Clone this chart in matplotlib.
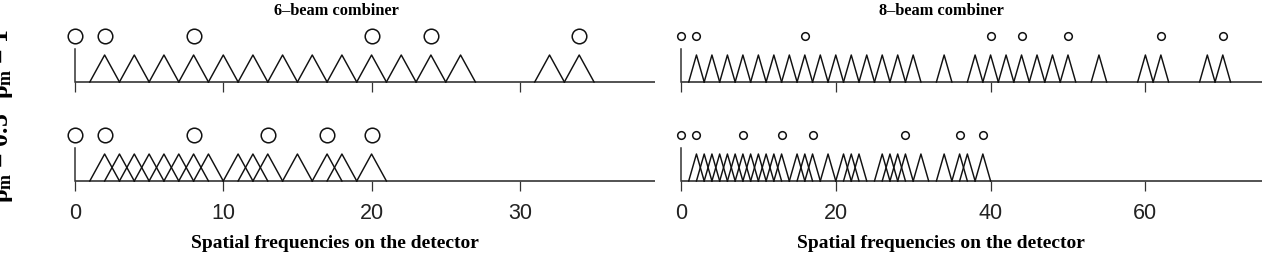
import matplotlib
matplotlib.use("Agg")
import matplotlib.pyplot as plt

plt.rcParams['mathtext.fontset'] = 'custom'
plt.rcParams['mathtext.rm'] = 'Liberation Serif:bold'
plt.rcParams['mathtext.bf'] = 'Liberation Serif:bold'
plt.rcParams['mathtext.it'] = 'Liberation Serif:bold'

# aperture positions (circles) and baseline frequencies (triangle peaks)
apert_6_r1 = [0, 2, 8, 20, 24, 34]
peaks_6_r1 = [2, 4, 6, 8, 10, 12, 14, 16, 18, 20, 22, 24, 26, 32, 34]
apert_6_r05 = [0, 2, 8, 13, 17, 20]
peaks_6_r05 = [2, 3, 4, 5, 6, 7, 8, 9, 11, 12, 13, 15, 17, 18, 20]

apert_8_r1 = [0, 2, 16, 40, 44, 50, 62, 70]
peaks_8_r1 = [2, 4, 6, 8, 10, 12, 14, 16, 18, 20, 22, 24, 26, 28, 30,
              34, 38, 40, 42, 44, 46, 48, 50, 54, 60, 62, 68, 70]
apert_8_r05 = [0, 2, 8, 13, 17, 29, 36, 39]
peaks_8_r05 = [2, 3, 4, 5, 6, 7, 8, 9, 10, 11, 12, 13, 15, 16, 17, 19,
               21, 22, 23, 26, 27, 28, 29, 31, 34, 36, 37, 39]

ticks_6 = [0, 10, 20, 30]
ticks_8 = [0, 20, 40, 60]
titles = ["6\u2013beam combiner", "8\u2013beam combiner"]
row_labels = [r"$\rho_\mathrm{m}$ = 1", r"$\rho_\mathrm{m}$ = 0.5"]
xlabel = "Spatial frequencies on the detector"

W, H = 1266, 257
fig = plt.figure(figsize=(W / 100, H / 100), dpi=100)

def px_axes(x0, x1, y_top, y_bot):
    return fig.add_axes([x0 / W, 1 - y_bot / H, (x1 - x0) / W, (y_bot - y_top) / H])

serif = 'Liberation Serif'
sans = 'Liberation Sans'

def panel(ax, apert, peaks, xlim, xend, ticks, labels, msize):
    ax.set_xlim(xlim)
    ax.set_ylim(-0.6, 2.0)
    for s in ['top', 'right', 'left']:
        ax.spines[s].set_visible(False)
    ax.spines['bottom'].set_position(('data', 0))
    ax.spines['bottom'].set_visible(False)
    ax.set_yticks([])
    ax.set_xticks(ticks)
    ax.tick_params(axis='x', direction='out', length=7.5, width=0.9, color='#333333',
                   pad=8, labelsize=15.5, labelcolor='#222222', labelbottom=labels)
    for lab in ax.get_xticklabels():
        lab.set_fontfamily(sans)
    # baseline and zero-frequency line
    ax.plot([0, xend], [0, 0], color='#444444', lw=1.3, clip_on=False, solid_capstyle='butt')
    ax.plot([0, 0], [0, 1.22], color='#333333', lw=1.1, clip_on=False)
    for p in peaks:
        ax.plot([p - 1, p, p + 1], [0, 1, 0], color='#111111', lw=1.05, clip_on=False)
    ax.plot(apert, [1.7] * len(apert), linestyle='none', marker='o', ms=msize,
            mfc='white', mec='#111111', mew=1.1, clip_on=False)

xl6 = (-1.4, 36.4)
xl8 = (-2.8, 70.0)
axL1 = px_axes(54.2, 614.8, 28, 98.2)
axL2 = px_axes(54.2, 614.8, 127, 197.2)
axR1 = px_axes(659.3, 1222.8, 28, 98.2)
axR2 = px_axes(659.3, 1222.8, 127, 197.2)

panel(axL1, apert_6_r1, peaks_6_r1, xl6, 39.1, ticks_6, False, 10.5)
panel(axL2, apert_6_r05, peaks_6_r05, xl6, 39.1, ticks_6, True, 10.5)
panel(axR1, apert_8_r1, peaks_8_r1, xl8, 75.1, ticks_8, False, 5.5)
panel(axR2, apert_8_r05, peaks_8_r05, xl8, 75.1, ticks_8, True, 5.5)

fig.text(336 / W, 1 - 11 / H, titles[0], ha='center', va='center',
         fontfamily=serif, fontweight='bold', fontsize=11.8)
fig.text(941 / W, 1 - 11 / H, titles[1], ha='center', va='center',
         fontfamily=serif, fontweight='bold', fontsize=11.8)
fig.text(335 / W, 1 - 243 / H, xlabel, ha='center', va='center',
         fontfamily=serif, fontweight='bold', fontsize=14)
fig.text(941 / W, 1 - 243 / H, xlabel, ha='center', va='center',
         fontfamily=serif, fontweight='bold', fontsize=14)

fig.text(2 / W, 1 - 64 / H, row_labels[0], ha='center', va='center', rotation=90,
         fontfamily=serif, fontweight='bold', fontsize=18.5)
fig.text(2 / W, 1 - 158 / H, row_labels[1], ha='center', va='center', rotation=90,
         fontfamily=serif, fontweight='bold', fontsize=18.5)

fig.savefig("out.png", dpi=100)
